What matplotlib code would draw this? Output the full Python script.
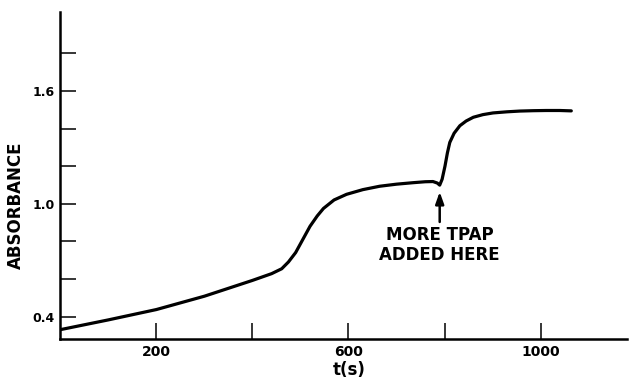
"""
Absorbance vs time trace, with the point where more TPAP was added.

Uso:
    python plot.py
Saída: out.png
"""

from __future__ import annotations

import matplotlib

matplotlib.use("Agg")
import matplotlib.pyplot as plt  # noqa: E402

# valores
tempo_s = [0, 100, 200, 300, 400, 440, 461, 475, 490, 505, 520, 535, 548,
           570, 596, 630, 665, 700, 735, 760, 776, 785, 790, 795, 801, 806,
           811, 820, 832, 845, 860, 880, 901, 930, 957, 985, 1012, 1040, 1064]
absorbancia = [0.330, 0.382, 0.437, 0.508, 0.592, 0.628, 0.654, 0.690, 0.740,
               0.810, 0.880, 0.935, 0.975, 1.020, 1.050, 1.075, 1.093, 1.104,
               1.112, 1.117, 1.118, 1.110, 1.099, 1.130, 1.200, 1.270, 1.326,
               1.375, 1.415, 1.440, 1.460, 1.474, 1.483, 1.489, 1.493, 1.495,
               1.496, 1.496, 1.494]

x_ticks = [200, 400, 600, 800, 1000]
x_rotulos = ["200", "", "600", "", "1000"]
y_ticks = [0.4, 0.6, 0.8, 1.0, 1.2, 1.4, 1.6, 1.8]
y_rotulos = ["0.4", "", "", "1.0", "", "", "1.6", ""]

t_adicao = 790  # momento da adição de TPAP
nota = "MORE TPAP\nADDED HERE"


def main() -> None:
    fig = plt.figure(figsize=(6.29, 3.82), dpi=100)
    ax = fig.add_axes([60.3 / 629, 43.5 / 382, 566.7 / 629, 326.5 / 382])

    ax.plot(tempo_s, absorbancia, color="black", lw=2.3,
            solid_capstyle="round", solid_joinstyle="round")

    ax.set_xlim(0, 1180)
    ax.set_ylim(0.283, 2.02)

    ax.set_xticks(x_ticks)
    ax.set_xticklabels(x_rotulos, fontsize=10, fontweight="bold")
    ax.set_yticks(y_ticks)
    ax.set_yticklabels(y_rotulos, fontsize=9, fontweight="bold")
    ax.tick_params(direction="in", length=11.5, width=1.1, color="black")
    ax.tick_params(axis="x", pad=5)
    ax.tick_params(axis="y", pad=4)

    ax.spines[["top", "right"]].set_visible(False)
    for lado in ("left", "bottom"):
        ax.spines[lado].set_linewidth(1.8)

    ax.set_ylabel("ABSORBANCE", fontsize=12, fontweight="bold")
    ax.yaxis.set_label_coords(-0.062, 0.407)
    ax.set_xlabel("t(s)", fontsize=12, fontweight="bold")
    ax.xaxis.set_label_coords(0.51, -0.068)

    # seta e texto da adição
    ax.annotate("", xy=(t_adicao, 1.063), xytext=(t_adicao, 0.903),
                arrowprops=dict(arrowstyle="-|>,head_length=0.7,head_width=0.25",
                                color="black", lw=1.8, shrinkA=0, shrinkB=0))
    ax.text(t_adicao, 0.78, nota, ha="center", va="center",
            fontsize=12, fontweight="bold", linespacing=1.2)

    fig.savefig("out.png", dpi=100)


if __name__ == "__main__":
    main()
